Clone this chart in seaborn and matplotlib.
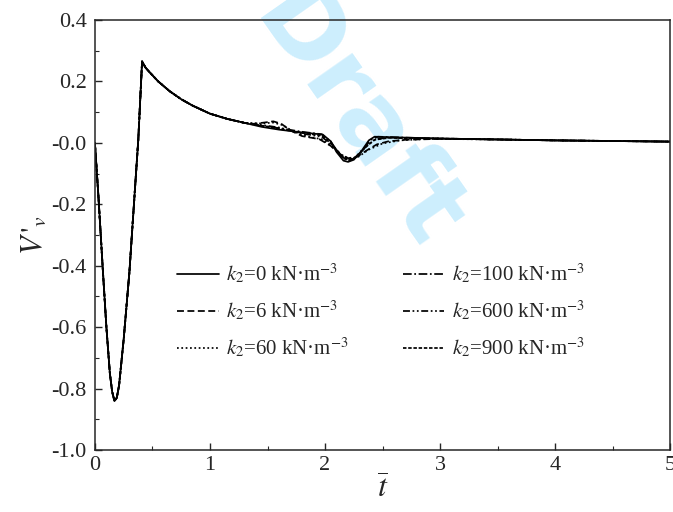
import numpy as np
import pandas as pd
import matplotlib
matplotlib.use("Agg")
import matplotlib.pyplot as plt
import seaborn as sns

# common early-time response (all k2 overlap here)
t_common = [0.0, 0.03, 0.07, 0.10, 0.13, 0.15, 0.17, 0.19, 0.21, 0.25, 0.30, 0.35, 0.377, 0.41,
            0.44, 0.47, 0.55, 0.65, 0.75, 0.85, 1.0, 1.15, 1.3]
v_common = [0.0, -0.17, -0.42, -0.60, -0.75, -0.81, -0.84, -0.83, -0.79, -0.64, -0.42, -0.14, 0.01, 0.265,
            0.245, 0.232, 0.200, 0.168, 0.142, 0.121, 0.095, 0.078, 0.065]

# later-time part, per k2
t_k0 = [1.45, 1.6, 1.8, 1.98, 2.05, 2.1, 2.16, 2.2, 2.25, 2.32, 2.38, 2.43, 2.6, 3.0, 3.5, 4.0, 4.5, 5.0]
v_k0 = [0.052, 0.043, 0.034, 0.027, 0.005, -0.03, -0.058, -0.062, -0.055, -0.025, 0.008, 0.02, 0.018,
        0.014, 0.011, 0.008, 0.006, 0.004]

t_k6 = [1.38, 1.47, 1.55, 1.62, 1.7, 1.8, 1.95, 2.05, 2.12, 2.2, 2.28, 2.36, 2.45, 2.55, 2.7, 3.0, 3.5, 4.0, 4.5, 5.0]
v_k6 = [0.062, 0.066, 0.070, 0.062, 0.040, 0.022, 0.012, -0.010, -0.035, -0.050, -0.045, -0.025, -0.005,
        0.005, 0.010, 0.013, 0.011, 0.008, 0.006, 0.004]

t_k60 = [1.45, 1.55, 1.63, 1.72, 1.85, 1.97, 2.06, 2.14, 2.21, 2.29, 2.38, 2.5, 2.65, 2.9, 3.5, 4.0, 4.5, 5.0]
v_k60 = [0.063, 0.066, 0.058, 0.038, 0.020, 0.012, -0.012, -0.038, -0.052, -0.045, -0.022, -0.002,
         0.008, 0.013, 0.011, 0.008, 0.006, 0.004]

t_k100 = [1.45, 1.6, 1.8, 1.97, 2.05, 2.12, 2.19, 2.25, 2.33, 2.4, 2.46, 2.7, 3.0, 3.5, 4.0, 4.5, 5.0]
v_k100 = [0.055, 0.048, 0.036, 0.028, 0.004, -0.035, -0.058, -0.052, -0.020, 0.010, 0.020, 0.017,
          0.014, 0.011, 0.008, 0.006, 0.004]

t_k600 = [1.45, 1.6, 1.8, 1.97, 2.07, 2.15, 2.21, 2.28, 2.36, 2.44, 2.55, 3.0, 3.5, 4.0, 4.5, 5.0]
v_k600 = [0.058, 0.050, 0.030, 0.020, -0.010, -0.045, -0.058, -0.045, -0.010, 0.012, 0.017,
          0.014, 0.011, 0.008, 0.006, 0.004]

t_k900 = [1.45, 1.6, 1.8, 1.97, 2.06, 2.14, 2.2, 2.27, 2.35, 2.43, 2.55, 3.0, 3.5, 4.0, 4.5, 5.0]
v_k900 = [0.056, 0.046, 0.032, 0.024, -0.005, -0.040, -0.056, -0.047, -0.015, 0.010, 0.016,
          0.014, 0.011, 0.008, 0.006, 0.004]

etiquetas = [r'$k_2$=0 kN·m$^{-3}$', r'$k_2$=6 kN·m$^{-3}$', r'$k_2$=60 kN·m$^{-3}$',
             r'$k_2$=100 kN·m$^{-3}$', r'$k_2$=600 kN·m$^{-3}$', r'$k_2$=900 kN·m$^{-3}$']
series = [(t_k0, v_k0), (t_k6, v_k6), (t_k60, v_k60),
          (t_k100, v_k100), (t_k600, v_k600), (t_k900, v_k900)]
estilos = ['-', (0, (4, 2)), (0, (1, 1.5)), (0, (5, 1.5, 1, 1.5)),
           (0, (4, 1.5, 1, 1.5, 1, 1.5)), (0, (2, 1))]

sns.set_style('ticks')
plt.rcParams['font.family'] = ['Liberation Serif', 'DejaVu Serif']
plt.rcParams['mathtext.fontset'] = 'stix'
plt.rcParams['axes.unicode_minus'] = False
plt.rcParams['xtick.direction'] = 'in'
plt.rcParams['ytick.direction'] = 'in'

fig, ax = plt.subplots(figsize=(6.73, 5.12), dpi=100)
fig.subplots_adjust(left=0.141, right=0.996, top=0.961, bottom=0.121)

ax.text(0.455, 0.765, 'Draft', transform=ax.transAxes, fontsize=72, fontweight='bold',
        family='DejaVu Sans', color='#cdeefd', rotation=-55, ha='center', va='center',
        zorder=0, clip_on=False)

for (tt, vv), lab, ls in zip(series, etiquetas, estilos):
    sns.lineplot(x=t_common + tt, y=v_common + vv, ax=ax, color='black', lw=1.25,
                 linestyle=ls, label=lab, estimator=None, sort=False)

ax.set_xlim(0, 5)
ax.set_ylim(-1.0, 0.4)
ax.set_xticks(range(0, 6))
ax.set_xticks(np.arange(0.5, 5, 1), minor=True)
ax.set_yticks(np.arange(-1.0, 0.41, 0.2))
ax.set_yticks(np.arange(-0.9, 0.4, 0.2), minor=True)
ax.set_yticklabels(['%.1f' % v for v in np.arange(-1.0, 0.41, 0.2)])
ax.tick_params(axis='both', which='major', length=5, width=1, labelsize=16)
ax.tick_params(axis='x', which='major', pad=4)
ax.tick_params(axis='y', which='major', pad=6)
ax.tick_params(axis='both', which='minor', length=3, width=0.8)
for s in ax.spines.values():
    s.set_linewidth(1.1)
    s.set_visible(True)

ax.set_xlabel(r'$\overline{t}$', fontsize=23, labelpad=0)
ax.set_ylabel(r"$V\,'_{v}$", fontsize=22, labelpad=2)

ax.legend(ncol=2, frameon=False, fontsize=15, loc='lower left',
          bbox_to_anchor=(0.11, 0.165), handlelength=2.0, handletextpad=0.35,
          columnspacing=2.6, labelspacing=0.62)

fig.savefig('out.png', dpi=100)
